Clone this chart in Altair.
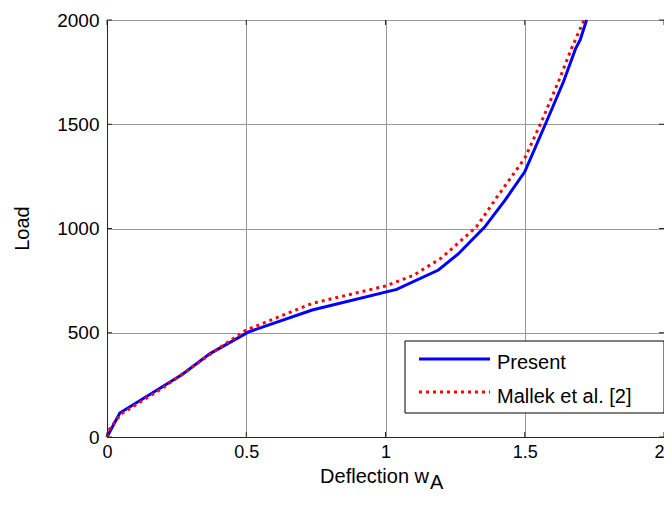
import altair as alt
import pandas as pd

# Present (blue solid)
w_present = [0, 0.046, 0.27, 0.37, 0.51, 0.737, 1.04, 1.19, 1.261, 1.356, 1.43, 1.5, 1.576, 1.639, 1.683, 1.699, 1.722]
L_present = [0, 115, 300, 400, 505, 609, 708, 801, 878, 1007, 1137, 1272, 1506, 1704, 1864, 1904, 2000]
# Mallek et al. [2] (red dotted)
w_mallek = [0, 0.01, 0.05, 0.2, 0.4, 0.5, 0.737, 1.0, 1.1, 1.2, 1.326, 1.4, 1.5, 1.558, 1.621, 1.668, 1.713]
L_mallek = [0, 40, 110, 235, 425, 513, 641, 724, 775, 858, 1007, 1150, 1337, 1506, 1704, 1864, 2000]

x_ticks = [0, 0.5, 1, 1.5, 2]
y_ticks = [0, 500, 1000, 1500, 2000]
legend_labels = ["Present", "Mallek et al. [2]"]
x_title = "Deflection w"
x_sub = "A"
y_title = "Load"

W, H = 557, 417
FONT = "Liberation Sans"
FS = 20
FT = 19

df_p = pd.DataFrame({"w": w_present, "L": L_present})
df_m = pd.DataFrame({"w": w_mallek, "L": L_mallek})
df_xt = pd.DataFrame({"v": x_ticks})
df_yt = pd.DataFrame({"v": y_ticks})
one = pd.DataFrame({"a": [0]})

xs = alt.Scale(domain=[0, 2], nice=False)
ys = alt.Scale(domain=[0, 2000], nice=False)

base_x = alt.X("w:Q", scale=xs, axis=alt.Axis(
    values=x_ticks, format="~g", grid=True, gridColor="#9a9a9a", gridWidth=1,
    ticks=False, labelFont=FONT, labelFontSize=18, labelColor="#000", labelPadding=6,
    labelAlign=alt.condition("datum.value == 2", alt.value("right"), alt.value("center")),
    domainColor="#262626", domainWidth=1, title=None, labelFlush=False))
base_y = alt.Y("L:Q", scale=ys, axis=alt.Axis(
    values=y_ticks, format="d", grid=True, gridColor="#9a9a9a", gridWidth=1,
    ticks=False, labelFont=FONT, labelFontSize=FT, labelColor="#000", labelPadding=8,
    domainColor="#262626", domainWidth=1, title=None, labelFlush=False))

present = alt.Chart(df_p).mark_line(color="#0000ff", strokeWidth=3).encode(
    x=base_x, y=base_y, order="w:Q")
mallek = alt.Chart(df_m).mark_line(color="#ff0000", strokeWidth=3, strokeDash=[3, 4]).encode(
    x=alt.X("w:Q", scale=xs), y=alt.Y("L:Q", scale=ys), order="w:Q")

tick_col = "#262626"
xt_bot = alt.Chart(df_xt).mark_rule(color=tick_col).encode(
    x=alt.X("v:Q", scale=xs), y=alt.value(H), y2=alt.value(H - 5))
xt_top = alt.Chart(df_xt).mark_rule(color=tick_col).encode(
    x=alt.X("v:Q", scale=xs), y=alt.value(0), y2=alt.value(5))
yt_left = alt.Chart(df_yt).mark_rule(color=tick_col).encode(
    y=alt.Y("v:Q", scale=ys), x=alt.value(0), x2=alt.value(5))
yt_right = alt.Chart(df_yt).mark_rule(color=tick_col).encode(
    y=alt.Y("v:Q", scale=ys), x=alt.value(W - 5), x2=alt.value(W))

# Legend
leg_box = alt.Chart(one).mark_rect(fill="white", stroke="black", strokeWidth=1).encode(
    x=alt.value(298), x2=alt.value(W), y=alt.value(321), y2=alt.value(393))
leg_l1 = alt.Chart(one).mark_rule(color="#0000ff", strokeWidth=3).encode(
    x=alt.value(312), x2=alt.value(383), y=alt.value(339))
leg_l2 = alt.Chart(one).mark_rule(color="#ff0000", strokeWidth=3, strokeDash=[3, 4]).encode(
    x=alt.value(312), x2=alt.value(383), y=alt.value(372))
leg_t1 = alt.Chart(one).mark_text(align="left", baseline="alphabetic", font=FONT, fontSize=FS, color="black").encode(
    x=alt.value(390), y=alt.value(349), text=alt.value(legend_labels[0]))
leg_t2 = alt.Chart(one).mark_text(align="left", baseline="alphabetic", font=FONT, fontSize=FS, color="black").encode(
    x=alt.value(390), y=alt.value(383), text=alt.value(legend_labels[1]))

# Axis titles
xtitle = alt.Chart(one).mark_text(align="right", baseline="alphabetic", font=FONT, fontSize=FS, color="black").encode(
    x=alt.value(322), y=alt.value(463), text=alt.value(x_title))
xsub = alt.Chart(one).mark_text(align="left", baseline="alphabetic", font=FONT, fontSize=FS, color="black").encode(
    x=alt.value(323), y=alt.value(469), text=alt.value(x_sub))
ytitle = alt.Chart(one).mark_text(align="center", baseline="middle", font=FONT, fontSize=FS, color="black", angle=270).encode(
    x=alt.value(-84), y=alt.value(H / 2), text=alt.value(y_title))

chart = alt.layer(
    present, mallek, xt_bot, xt_top, yt_left, yt_right,
    leg_box, leg_l1, leg_l2, leg_t1, leg_t2, xtitle, xsub, ytitle
).properties(
    width=W, height=H,
    autosize=alt.AutoSizeParams(type="none"),
    padding={"left": 99, "top": 12, "right": 0, "bottom": 56},
    background="white",
).configure_view(strokeWidth=0)

chart.save("out.html", embed_options={"renderer": "svg", "actions": False})
